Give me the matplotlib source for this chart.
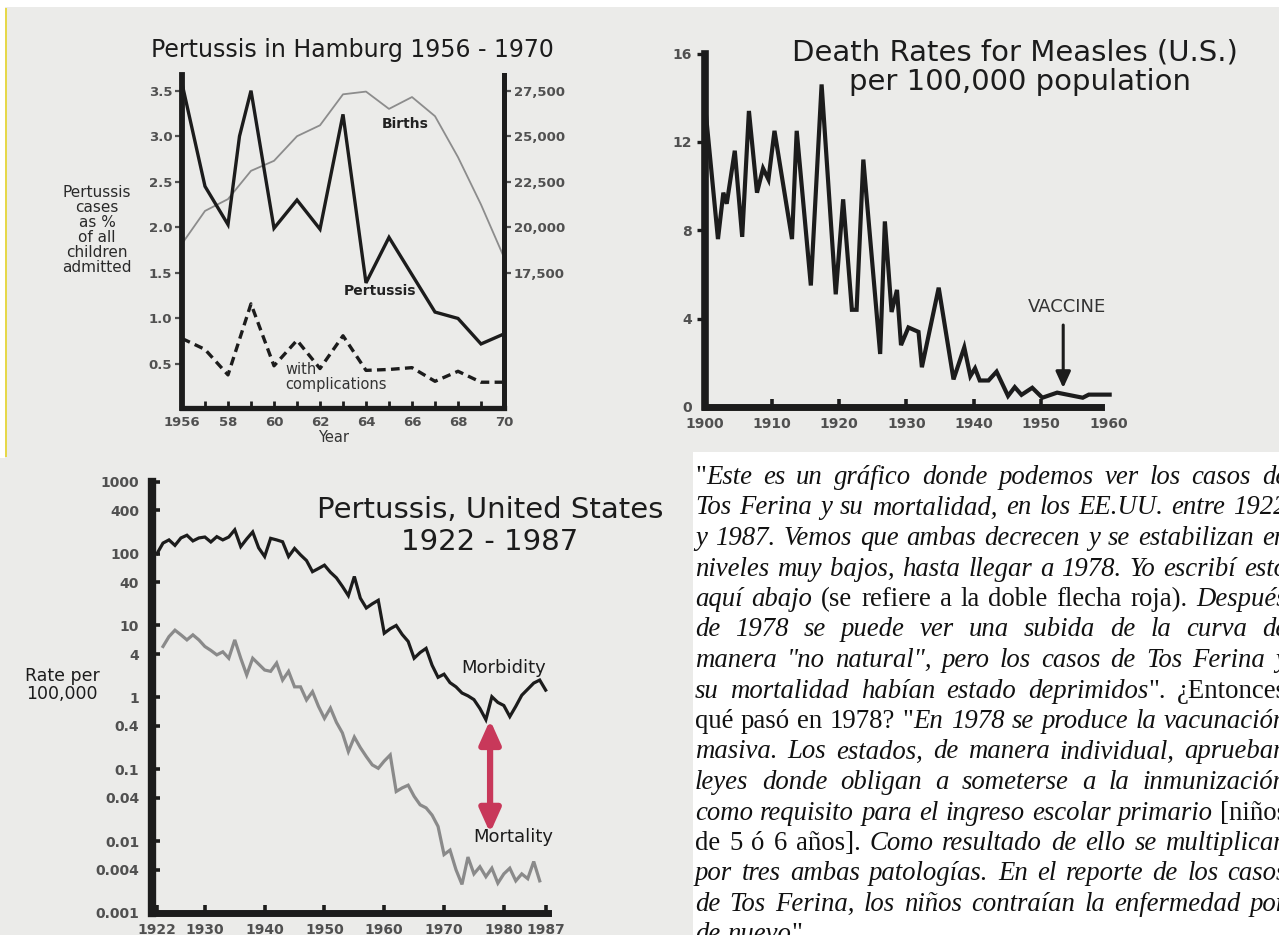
import matplotlib
matplotlib.use("Agg")
import matplotlib.pyplot as plt
from matplotlib.patches import Rectangle
from matplotlib.font_manager import FontProperties

W, H = 1279, 935
DPI = 100
BG = '#ebebe9'
INK = '#1c1c1c'
TICKC = '#505050'

# ---------------- data: Pertussis in Hamburg 1956-1970 ----------------
ham_years = [1956, 1957, 1958, 1958.5, 1959, 1960, 1961, 1962, 1963, 1964,
             1965, 1966, 1967, 1968, 1969, 1970]
ham_pertussis = [3.58, 2.45, 2.03, 3.0, 3.5, 1.99, 2.30, 1.98, 3.24, 1.39,
                 1.89, 1.48, 1.07, 1.0, 0.72, 0.83]
ham_years2 = list(range(1956, 1971))
ham_complications = [0.78, 0.66, 0.38, 1.16, 0.48, 0.76, 0.45, 0.81, 0.43, 0.44,
                     0.46, 0.31, 0.42, 0.30, 0.30]
ham_births = [19100, 20900, 21550, 23100, 23650, 25000, 25600, 27300, 27450, 26500,
              27150, 26100, 23850, 21250, 18350]
ham_left_ticks = [0.5, 1.0, 1.5, 2.0, 2.5, 3.0, 3.5]
ham_left_labels = ['0.5', '1.0', '1.5', '2.0', '2.5', '3.0', '3.5']
ham_right_ticks = [17500, 20000, 22500, 25000, 27500]
ham_right_labels = ['17,500', '20,000', '22,500', '25,000', '27,500']
ham_x_ticks = list(range(1956, 1971))
ham_x_labels = ['1956', '', '58', '', '60', '', '62', '', '64', '', '66', '', '68', '', '70']

# ---------------- data: Measles death rates (U.S.) ----------------
measles_years = [1900.1, 1902.0, 1902.8, 1903.3, 1904.5, 1905.6, 1906.6, 1907.8, 1908.7,
                 1909.5, 1910.4, 1913.0, 1913.7, 1915.8, 1917.4, 1919.5, 1920.6, 1921.9,
                 1922.6, 1923.6, 1926.1, 1926.8, 1927.8, 1928.6, 1929.2, 1930.3, 1931.8,
                 1932.3, 1934.8, 1937.0, 1938.6, 1939.5, 1940.2, 1940.9, 1942.2, 1943.4,
                 1945.1, 1946.1, 1947.1, 1948.7, 1950.2, 1952.4, 1956.2, 1957.1, 1960.2]
measles_rate = [13.6, 7.6, 9.7, 9.2, 11.6, 7.7, 13.4, 9.7, 10.8,
                10.3, 12.5, 7.6, 12.5, 5.5, 14.6, 5.1, 9.4, 4.4,
                4.4, 11.2, 2.4, 8.4, 4.3, 5.3, 2.8, 3.6, 3.4,
                1.8, 5.4, 1.25, 2.7, 1.4, 1.75, 1.2, 1.2, 1.6,
                0.5, 0.9, 0.55, 0.87, 0.42, 0.65, 0.42, 0.56, 0.56]
measles_xticks = [1900, 1910, 1920, 1930, 1940, 1950, 1960]
measles_xlabels = ['1900', '1910', '1920', '1930', '1940', '1950', '1960']
measles_yticks = [0, 4, 8, 12, 16]
measles_ylabels = ['0', '4', '8', '12', '16']

# ---------------- data: Pertussis, United States 1922-1987 ----------------
us_years = list(range(1922, 1988))
us_morbidity = [100, 140, 155, 130, 165, 180, 150, 165, 170, 145,
                172, 155, 170, 214, 125, 160, 200, 120, 91, 163,
                155, 146,
                91, 118, 96, 80, 56, 62, 69, 55, 46, 35,
                26, 48, 24, 17.5, 20, 22.4, 7.8, 9, 10, 7.5,
                6, 3.5, 4.2, 4.8, 2.8, 1.9, 2.1, 1.6, 1.4, 1.15,
                1.05, 0.93, 0.7, 0.49, 1.02, 0.85, 0.77, 0.54, 0.75, 1.07,
                1.3, 1.58, 1.74, 1.26]
mort_years = list(range(1923, 1987))
us_mortality = [5.1, 7.0, 8.6, 7.4, 6.3, 7.4, 6.3, 5.1, 4.5, 3.9,
                4.3, 3.5, 6.3, 3.5, 2.05, 3.5, 2.9, 2.4, 2.3, 3.0,
                1.74, 2.3, 1.4, 1.4, 0.92, 1.2, 0.75, 0.51, 0.71, 0.45,
                0.32, 0.176, 0.28, 0.2, 0.15, 0.115, 0.103, 0.13, 0.158, 0.049,
                0.055, 0.06, 0.042, 0.032, 0.029, 0.023, 0.016, 0.0065, 0.0075, 0.004,
                0.0025, 0.006, 0.0035, 0.0044, 0.0032, 0.0042, 0.0026, 0.0035, 0.0042, 0.0028,
                0.0035, 0.003, 0.0052, 0.0028]
us_yticks = [1000, 400, 100, 40, 10, 4, 1, 0.4, 0.1, 0.04, 0.01, 0.004, 0.001]
us_ylabels = ['1000', '400', '100', '40', '10', '4', '1', '0.4', '0.1', '0.04',
              '0.01', '0.004', '0.001']
us_xticks = [1922, 1930, 1940, 1950, 1960, 1970, 1980, 1987]
us_xlabels = ['1922', '1930', '1940', '1950', '1960', '1970', '1980', '1987']

# ---------------- text block ----------------
R_, I_ = False, True
body_lines = [
    [('"', R_), ('Este es un gráfico donde podemos ver los casos de', I_)],
    [('Tos Ferina y su mortalidad, en los EE.UU. entre 1922', I_)],
    [('y 1987. Vemos que ambas decrecen y se estabilizan en', I_)],
    [('niveles muy bajos, hasta llegar a 1978. Yo escribí esto', I_)],
    [('aquí abajo', I_), (' (se refiere a la doble flecha roja). ', R_), ('Después', I_)],
    [('de 1978 se puede ver una subida de la curva de', I_)],
    [('manera "no natural", pero los casos de Tos Ferina y', I_)],
    [('su mortalidad habían estado deprimidos', I_), ('". ¿Entonces', R_)],
    [('qué pasó en 1978? "', R_), ('En 1978 se produce la vacunación', I_)],
    [('masiva. Los estados, de manera individual, aprueban', I_)],
    [('leyes donde obligan a someterse a la inmunización', I_)],
    [('como requisito para el ingreso escolar primario', I_), (' [niños', R_)],
    [('de 5 ó 6 años].', R_), (' Como resultado de ello se multiplican', I_)],
    [('por tres ambas patologías. En el reporte de los casos', I_)],
    [('de Tos Ferina, los niños contraían la enfermedad por', I_)],
    [('de nuevo', I_), ('".', R_)],
]

# =====================================================================
fig = plt.figure(figsize=(W / DPI, H / DPI), dpi=DPI)
fig.patch.set_facecolor(BG)


def add_rect(x0, y0, x1, y1, color):
    fig.add_artist(Rectangle((x0 / W, 1 - y1 / H), (x1 - x0) / W, (y1 - y0) / H,
                             transform=fig.transFigure, facecolor=color,
                             edgecolor='none', zorder=-10))


def add_axes_px(l, t, r, b):
    a = fig.add_axes([l / W, 1 - b / H, (r - l) / W, (b - t) / H])
    a.patch.set_visible(False)
    return a


def ftext(x, y, s, **kw):
    return fig.text(x / W, 1 - y / H, s, **kw)


# backgrounds
add_rect(693, 452, W, H, 'white')
add_rect(0, 0, W, 7, 'white')
add_rect(0, 0, 5, 458, 'white')
add_rect(5, 8, 7.5, 457, '#e6d84a')

# ---------------- Hamburg chart ----------------
ax = add_axes_px(182, 75, 504, 408)
ylo, yhi = 0.017, 3.672
ax.set_xlim(1956, 1970)
ax.set_ylim(ylo, yhi)
ax2 = ax.twinx()
ax2.set_ylim(17500 + (ylo - 1.5) * 5000, 17500 + (yhi - 1.5) * 5000)
ax2.patch.set_visible(False)
ax2.plot(ham_years2, ham_births, color='#8c8c8c', lw=1.3, zorder=2)
ax.plot(ham_years, ham_pertussis, color=INK, lw=2.4, solid_joinstyle='miter', zorder=3)
ax.plot(ham_years2, ham_complications, color=INK, lw=2.4, dashes=(2.6, 1.6), zorder=3)
ax.set_zorder(3)
for s in ['top', 'right']:
    ax.spines[s].set_visible(False)
for s in ['top', 'left', 'bottom']:
    ax2.spines[s].set_visible(False)
ax.spines['left'].set_linewidth(4.2)
ax.spines['bottom'].set_linewidth(3.8)
ax2.spines['right'].set_linewidth(3.6)
for sp in [ax.spines['left'], ax.spines['bottom'], ax2.spines['right']]:
    sp.set_color(INK)
    sp.set_capstyle('projecting')
ax.set_yticks(ham_left_ticks)
ax.set_yticklabels(ham_left_labels, fontweight='bold', fontsize=9.5, color=TICKC)
ax.tick_params(axis='y', direction='out', length=5, width=1.6, color=TICKC, pad=2)
ax.set_xticks(ham_x_ticks)
ax.set_xticklabels(ham_x_labels, fontweight='bold', fontsize=9.5, color=TICKC)
ax.tick_params(axis='x', direction='in', length=5, width=2, color=INK, pad=6)
ax2.set_yticks(ham_right_ticks)
ax2.set_yticklabels(ham_right_labels, fontweight='bold', fontsize=9.5, color=TICKC)
ax2.tick_params(axis='y', direction='out', length=5, width=1.6, color=TICKC, pad=2)

ftext(352, 50, 'Pertussis in Hamburg 1956 - 1970', fontsize=17, color=INK,
      ha='center', va='center')
ftext(97, 230, 'Pertussis\ncases\nas %\nof all\nchildren\nadmitted', fontsize=11,
      color='#2a2a2a', ha='center', va='center', linespacing=1.0)
ftext(405, 124, 'Births', fontsize=10, fontweight='bold', color='#222222',
      ha='center', va='center')
ftext(380, 291, 'Pertussis', fontsize=10, fontweight='bold', color='#222222',
      ha='center', va='center')
ftext(285, 370, 'with', fontsize=10.5, color='#333333', ha='left', va='center')
ftext(285, 385, 'complications', fontsize=10.5, color='#333333', ha='left', va='center')
ftext(334, 437, 'Year', fontsize=10.5, color='#333333', ha='center', va='center')

# ---------------- Measles chart ----------------
PXY = 6.73
mx = add_axes_px(704.5, 53.5, 704.5 + 61 * PXY, 407)
mx.set_xlim(1900, 1961)
mx.set_ylim(0, 16)
mx.plot(measles_years, measles_rate, color=INK, lw=3, solid_joinstyle='miter',
        clip_on=False)
for s in ['top', 'right']:
    mx.spines[s].set_visible(False)
mx.spines['left'].set_linewidth(5.5)
mx.spines['bottom'].set_linewidth(5)
mx.spines['bottom'].set_bounds(1900, 1958.9)
for s in ['left', 'bottom']:
    mx.spines[s].set_color(INK)
    mx.spines[s].set_capstyle('projecting')
mx.set_xticks(measles_xticks)
mx.set_xticklabels(measles_xlabels, fontweight='bold', fontsize=10, color=TICKC)
mx.tick_params(axis='x', direction='in', length=6, width=2.6, color=INK, pad=7)
xt = mx.xaxis.get_major_ticks()
xt[0].tick1line.set_visible(False)
xt[-1].tick1line.set_visible(False)
mx.set_yticks(measles_yticks)
mx.set_yticklabels(measles_ylabels, fontweight='bold', fontsize=10, color=TICKC)
mx.tick_params(axis='y', direction='out', length=6, width=2.4, color=INK, pad=3)
mx.yaxis.get_major_ticks()[0].tick1line.set_visible(False)

ftext(1015, 53, 'Death Rates for Measles (U.S.)', fontsize=21, color=INK,
      ha='center', va='center')
ftext(1020, 82, 'per 100,000 population', fontsize=21, color=INK,
      ha='center', va='center')
mx.annotate('', xy=(1953.3, 0.86), xytext=(1953.3, 3.71),
            arrowprops=dict(arrowstyle='-|>,head_length=0.7,head_width=0.32',
                            color=INK, lw=2.2, mutation_scale=14,
                            shrinkA=0, shrinkB=0))
mx.text(1953.9, 4.52, 'VACCINE', ha='center', va='center', fontsize=13,
        color='#333333')

# ---------------- Pertussis US chart ----------------
ux = add_axes_px(151.7, 481.7, 547.6, 913)
ux.set_yscale('log')
ux.set_ylim(0.001, 1000)
ux.set_xlim(1921.11, 1987.32)
ux.plot(mort_years, us_mortality, color='#8a8a8a', lw=2.3, solid_joinstyle='miter')
ux.plot(us_years, us_morbidity, color=INK, lw=2.3, solid_joinstyle='miter')
for s in ['top', 'right']:
    ux.spines[s].set_visible(False)
ux.spines['left'].set_linewidth(6)
ux.spines['bottom'].set_linewidth(5)
for s in ['left', 'bottom']:
    ux.spines[s].set_color(INK)
    ux.spines[s].set_capstyle('projecting')
ux.set_yticks(us_yticks)
ux.set_yticklabels(us_ylabels, fontweight='bold', fontsize=10, color=TICKC)
ux.yaxis.set_minor_locator(matplotlib.ticker.NullLocator())
ux.tick_params(axis='y', direction='in', length=6, width=2.6, color=INK, pad=9)
ux.set_xticks(us_xticks)
ux.set_xticklabels(us_xlabels, fontweight='bold', fontsize=10, color=TICKC)
ux.tick_params(axis='x', direction='in', length=6, width=2.6, color=INK, pad=7)

ftext(490, 510, 'Pertussis, United States', fontsize=21, color=INK,
      ha='center', va='center')
ftext(490, 542, '1922 - 1987', fontsize=21, color=INK, ha='center', va='center')
ftext(62, 685, 'Rate per\n100,000', fontsize=12.5, color=INK, ha='center',
      va='center', linespacing=1.0)
ux.text(1980.0, 2.6, 'Morbidity', fontsize=13, color=INK, ha='center', va='center')
ux.text(1981.5, 0.0115, 'Mortality', fontsize=13, color=INK, ha='center', va='center')
ux.annotate('', xy=(1977.7, 0.485), xytext=(1977.7, 0.013),
            arrowprops=dict(arrowstyle='<|-|>,head_length=1.0,head_width=0.45',
                            color='#c8385a', lw=4.5, mutation_scale=14,
                            shrinkA=0, shrinkB=0))

# ---------------- justified text block ----------------
renderer = fig.canvas.get_renderer()
TX_L, TX_R = 695, 1287
BASE0, PITCH = 484, 30.5


def words_of(line):
    words, cur = [], []
    for txt, ital in line:
        parts = txt.split(' ')
        for k, p in enumerate(parts):
            if k > 0 and cur:
                words.append(cur)
                cur = []
            if p:
                cur.append((p, ital))
    if cur:
        words.append(cur)
    return words


def fonts(size):
    return (FontProperties(family='Liberation Serif', style='italic', size=size),
            FontProperties(family='Liberation Serif', style='normal', size=size))


def width_of(s, fp):
    w, h, d = renderer.get_text_width_height_descent(s, fp, ismath=False)
    return w


def measure(size):
    fp_it, fp_rm = fonts(size)
    sp = width_of('a a', fp_rm) - width_of('aa', fp_rm)
    out = []
    for line in body_lines:
        words = words_of(line)
        ws = [[width_of(p, fp_it if it else fp_rm) for p, it in wd] for wd in words]
        out.append((words, ws))
    return sp, out


# font size chosen so the tightest justified line has ordinary word spacing
sp10, m10 = measure(10)
nat = [sum(sum(w) for w in ws) + (len(ws) - 1) * sp10 for _, ws in m10[:-1]]
size = 10 * (TX_R - TX_L) / max(nat) * 0.995
fp_it, fp_rm = fonts(size)
space_w, meas = measure(size)

for i, (words, widths) in enumerate(meas):
    total = sum(sum(w) for w in widths)
    last = (i == len(meas) - 1)
    gap = space_w if last else (TX_R - TX_L - total) / max(len(words) - 1, 1)
    x = TX_L
    yb = BASE0 + i * PITCH
    for wd, ws in zip(words, widths):
        for (p, it), w in zip(wd, ws):
            ftext(x, yb, p, fontproperties=(fp_it if it else fp_rm), color='#111111',
                  ha='left', va='baseline')
            x += w
        x += gap

fig.savefig('out.png', dpi=DPI, facecolor=fig.get_facecolor())
